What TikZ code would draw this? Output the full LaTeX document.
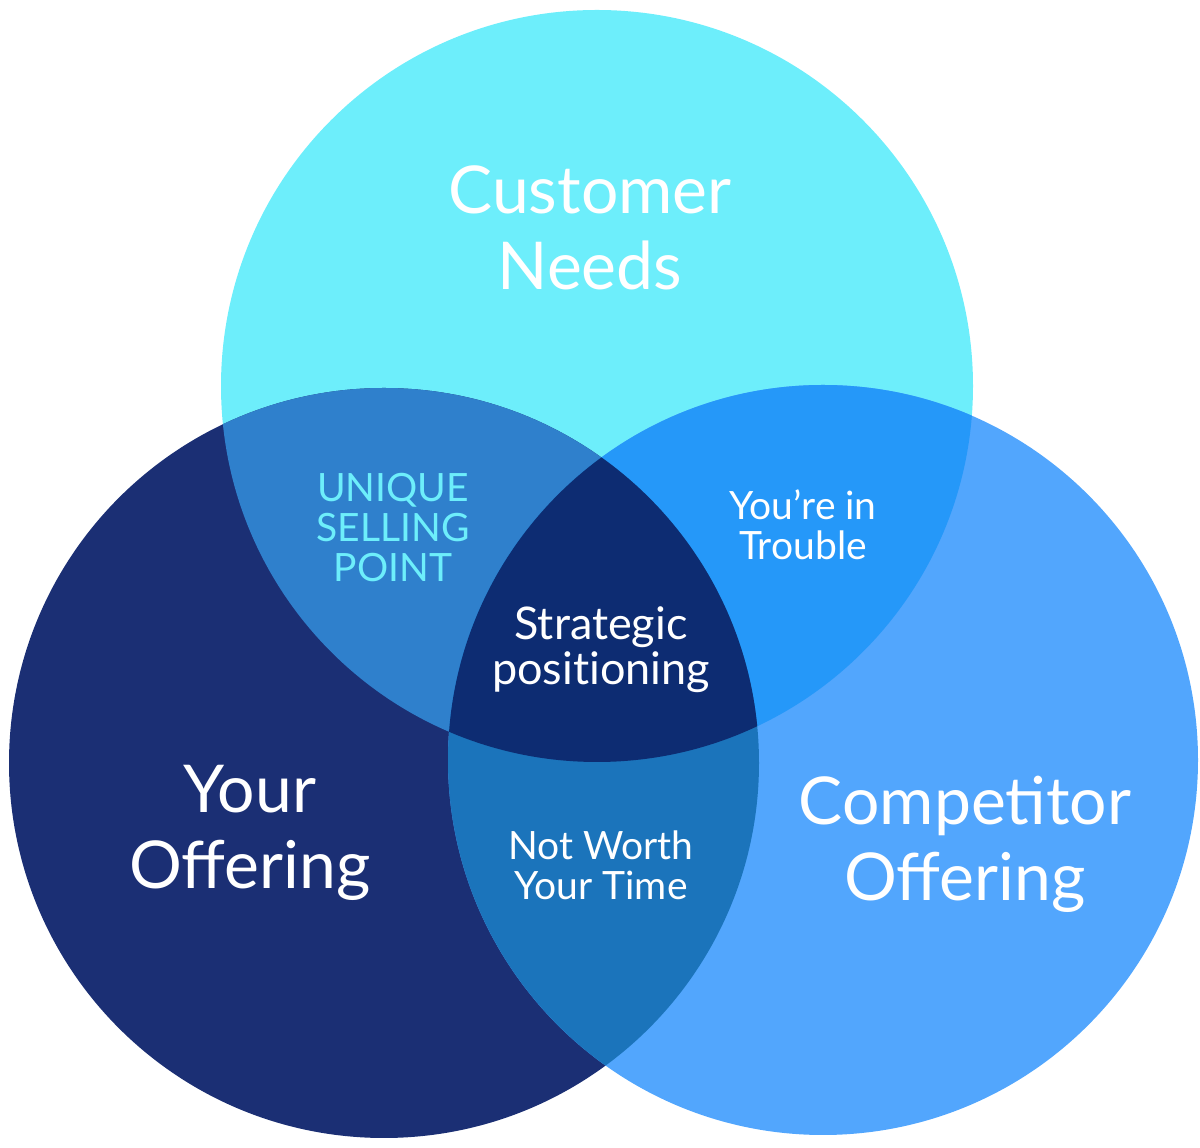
\documentclass[tikz,border=0pt]{standalone}
\usepackage{fontspec}
\setmainfont{Lato}
\usepackage{xcolor}
\usetikzlibrary{positioning}
\definecolor{needsC}{HTML}{6DEEFB}
\definecolor{yoursC}{HTML}{1B2F74}
\definecolor{compC}{HTML}{52A6FD}
\definecolor{uspC}{HTML}{2F80CC}
\definecolor{troubleC}{HTML}{2598F9}
\definecolor{notworthC}{HTML}{1B74BB}
\definecolor{coreC}{HTML}{0D2C72}
\tikzset{
  bigtext/.style={text=white, align=center, inner sep=0pt,
    font=\fontsize{66}{76}\selectfont},
  midtext/.style={text=white, align=center, inner sep=0pt,
    font=\fontsize{39}{40}\selectfont},
}
\newcommand{\needsCirc}{(597,762) circle[radius=376]}
\newcommand{\yoursCirc}{(384,385) circle[radius=375]}
\newcommand{\compCirc}{(823,388) circle[radius=375]}

\begin{document}
\begin{tikzpicture}[x=1pt, y=1pt]
  \useasboundingbox (0,0) rectangle (1200,1148);

  % the three sets
  \fill[needsC] \needsCirc;
  \fill[yoursC] \yoursCirc;
  \fill[compC]  \compCirc;

  % pairwise overlaps
  \begin{scope}
    \clip \needsCirc;
    \fill[uspC] \yoursCirc;
    \fill[troubleC] \compCirc;
  \end{scope}
  \begin{scope}
    \clip \yoursCirc;
    \fill[notworthC] \compCirc;
  \end{scope}

  % all three
  \begin{scope}
    \clip \needsCirc;
    \clip \yoursCirc;
    \fill[coreC] \compCirc;
  \end{scope}

  \node[bigtext] (needs) at (590,920) {Customer\\Needs};
  \node[bigtext] (yours) at (250,315) {Your\\Offering};
  \node[bigtext] (comp)  at (965,304) {Competitor\\Offering};

  \node[midtext, text=needsC] (usp) at (393,620) {UNIQUE\\SELLING\\POINT};
  \node[midtext] (trouble)  at (803,623) {You’re in\\Trouble};
  \node[midtext, font=\fontsize{45}{45}\selectfont] (core) at (601,498)
    {Strategic\\posit\kern0pt ioning};
  \node[midtext] (notworth) at (601,283) {Not Worth\\Your Time};
\end{tikzpicture}
\end{document}
